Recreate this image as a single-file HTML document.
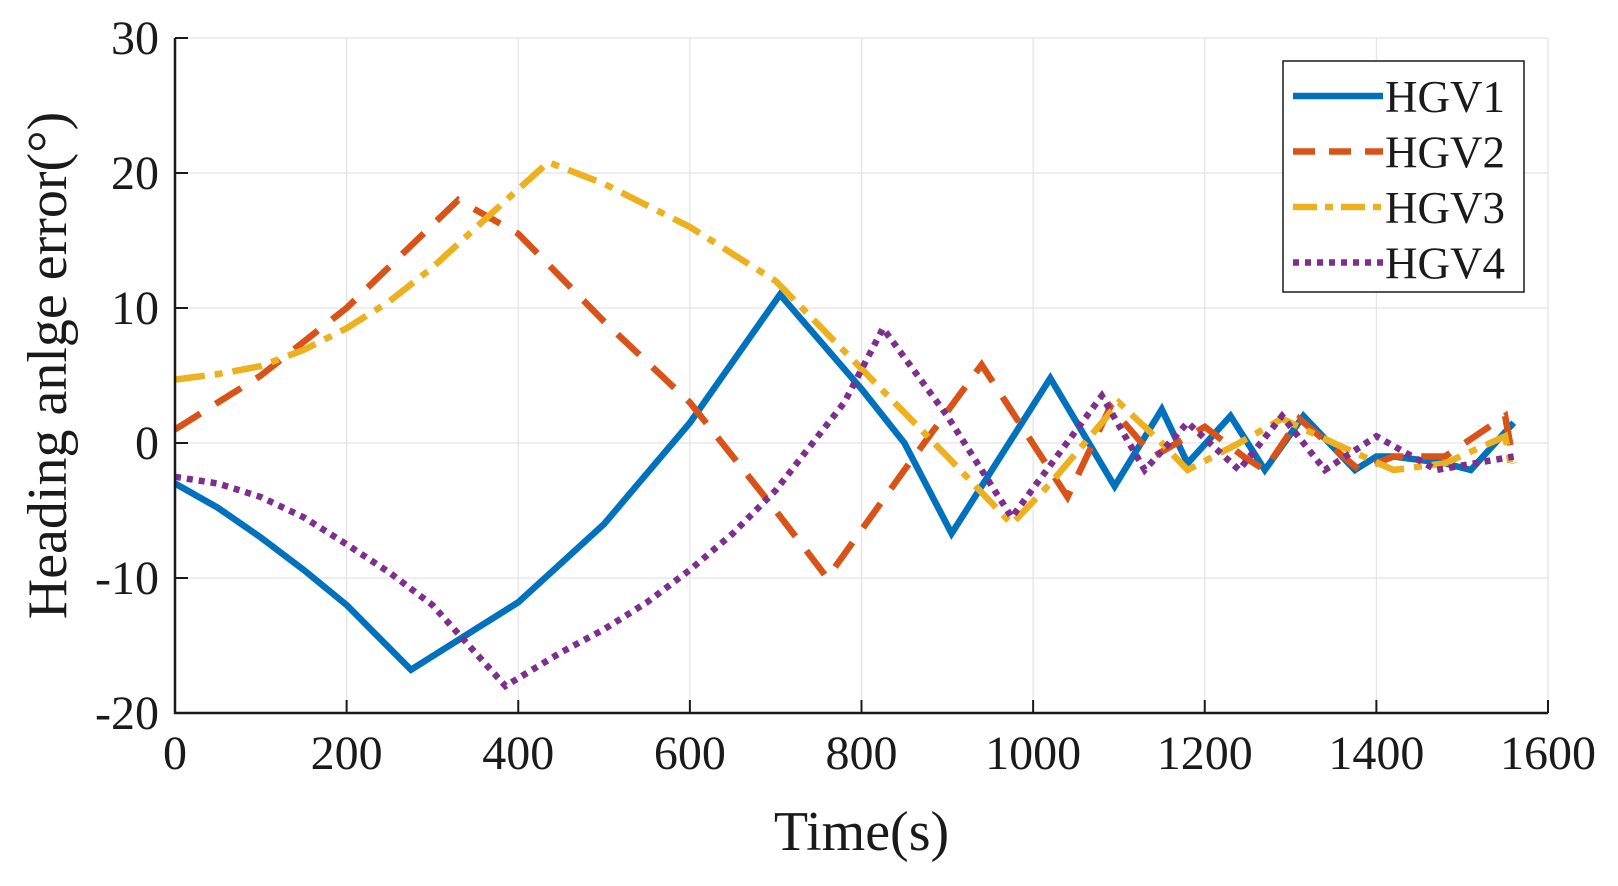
<!DOCTYPE html>
<html><head><meta charset="utf-8"><style>
html,body{margin:0;padding:0;background:#fff;}
svg text{font-family:"Liberation Serif",serif;fill:#1a1a1a;}
</style></head><body>
<svg id="chart" width="1618" height="881" xmlns="http://www.w3.org/2000/svg"></svg>
<script>
const xTicks=[0,200,400,600,800,1000,1200,1400,1600];
const yTicks=[-20,-10,0,10,20,30];
const seriesNames=["HGV1","HGV2","HGV3","HGV4"];
const hgv1T=[0,50,100,150,200,275,350,400,500,600,705,800,850,905,1020,1095,1150,1180,1230,1270,1315,1375,1400,1420,1480,1510,1560];
const hgv1V=[-3,-4.8,-7,-9.4,-12,-16.8,-13.8,-11.8,-6,1.5,11,4,0,-6.7,4.8,-3.2,2.5,-1.5,2,-2,2,-2,-1,-1,-1.5,-2,1.5];
const hgv2T=[0,100,200,330,400,500,600,700,760,850,940,1040,1090,1140,1200,1245,1270,1310,1380,1420,1480,1550,1560];
const hgv2V=[1,5,10,18,15.5,9,3,-5,-10,-2,5.8,-4,2.7,-1,1.2,-1,-2,1.8,-2,-1,-1,2,-1.5];
const hgv3T=[0,50,100,150,200,250,300,360,435,500,600,700,800,900,975,1020,1100,1150,1180,1240,1290,1350,1420,1480,1550,1558];
const hgv3V=[4.7,5.1,5.7,6.9,8.5,10.5,13,16.5,20.8,19.2,16,12,5.5,-1,-6,-3,3,0,-2,0,1.8,0,-2,-1.5,0.5,-2];
const hgv4T=[0,50,100,150,200,250,300,385,450,500,550,600,650,700,780,825,900,975,1080,1130,1180,1240,1290,1340,1400,1470,1560];
const hgv4V=[-2.5,-3,-4,-5.5,-7.5,-9.6,-12,-18,-15.5,-13.8,-11.8,-9.4,-6.7,-3.5,3,8.5,2,-5.5,3.5,-2,1.5,-2,2,-2,0.5,-2,-1];

const NS="http://www.w3.org/2000/svg";
const svg=document.getElementById('chart');
const L=175,R=1548,T=38,B=713;
const xs=t=>L+(t-0)/(1600-0)*(R-L);
const ys=v=>T+(30-v)/(30-(-20))*(B-T);
function mk(tag,attrs){const e=document.createElementNS(NS,tag);for(const k in attrs)e.setAttribute(k,attrs[k]);svg.appendChild(e);return e;}
xTicks.forEach(t=>{const g=mk('line',{x1:xs(t),x2:xs(t),y1:T,y2:B,stroke:'#e3e3e3','stroke-width':1.2});

});
yTicks.forEach(v=>{const g=mk('line',{x1:L,x2:R,y1:ys(v),y2:ys(v),stroke:'#e3e3e3','stroke-width':1.2});

});
const styles=[
 {c:'#0072BD',d:'none'},
 {c:'#D95319',d:'30 18'},
 {c:'#EDB120',d:'30 10 8 10'},
 {c:'#7E2F8E',d:'6 6'}];
const data=[[hgv1T,hgv1V],[hgv2T,hgv2V],[hgv3T,hgv3V],[hgv4T,hgv4V]];
data.forEach((s,i)=>{
 const pts=s[0].map((t,j)=>xs(t).toFixed(1)+','+ys(s[1][j]).toFixed(1)).join(' ');
 const p=mk('polyline',{points:pts,fill:'none',stroke:styles[i].c,'stroke-width':6.5,'stroke-dasharray':styles[i].d,'stroke-linejoin':'miter'});
 
 
});
const ax=mk('path',{d:`M${L},${T} L${L},${B} L${R},${B}`,fill:'none',stroke:'#1a1a1a','stroke-width':2.5});


xTicks.forEach(t=>{mk('line',{x1:xs(t),x2:xs(t),y1:B,y2:B-13,stroke:'#1a1a1a','stroke-width':2});
 const tx=mk('text',{x:xs(t),y:B+56,'font-size':48,'text-anchor':'middle'});tx.textContent=t;
 
 });
yTicks.forEach(v=>{mk('line',{x1:L,x2:L+13,y1:ys(v),y2:ys(v),stroke:'#1a1a1a','stroke-width':2});
 const tx=mk('text',{x:L-16,y:ys(v)+16,'font-size':48,'text-anchor':'end'});tx.textContent=v;
 
 });
const xl=mk('text',{x:(L+R)/2,y:850,'font-size':56,'text-anchor':'middle'});xl.textContent='Time(s)';


const yl=mk('text',{x:0,y:0,'font-size':56,'text-anchor':'middle',transform:`translate(66,${(T+B)/2-10}) rotate(-90)`});yl.textContent='Heading anlge error(°)';


const lb=mk('rect',{x:1283,y:61,width:241,height:231,fill:'#fff',stroke:'#1a1a1a','stroke-width':1.5});


seriesNames.forEach((n,i)=>{
 const y=96+i*55.5;
 const l=mk('line',{x1:1293,x2:1383,y1:y,y2:y,stroke:styles[i].c,'stroke-width':6.5,'stroke-dasharray':styles[i].d==='none'?'none':(i===1?'22 14':i===2?'24 8 8 8':'6 6')});
 
 
 const t=mk('text',{x:1385,y:y+16,'font-size':45});t.textContent=n;
 
 
});
</script>
</body></html>
